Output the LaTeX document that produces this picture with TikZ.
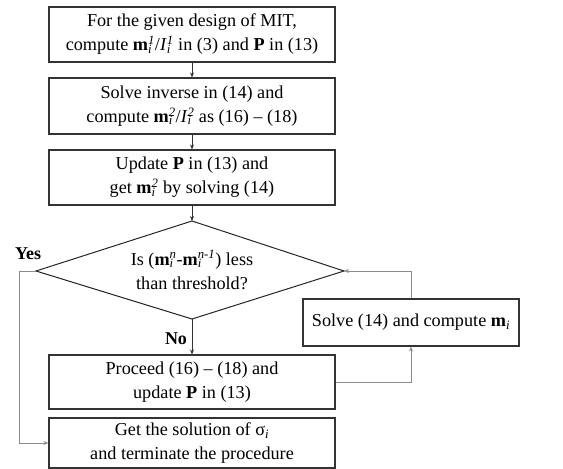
\documentclass[tikz,border=0pt]{standalone}
\usepackage{fontspec}
\setmainfont{Liberation Serif}
\usetikzlibrary{arrows.meta,shapes.geometric}
\newcommand\ssp[2]{\rlap{\textsubscript{\textit{#1}}}\textsuperscript{\textit{#2}}}
\begin{document}
\begin{tikzpicture}[x=1pt,y=-1pt,
  box/.style={draw=black!80,line width=1.1pt,minimum width=286pt,align=center,font=\fontsize{18.2}{24}\selectfont,inner sep=0pt},
  arr/.style={draw=black!80,line width=0.8pt,-{Stealth[length=5pt,width=4pt]}},
  fb/.style={draw=black!45,line width=0.9pt,-{Stealth[length=5pt,width=4pt]}},
  lbl/.style={font=\fontsize{18}{20}\selectfont\bfseries}]
\useasboundingbox (0,0) rectangle (563,469);
\node[box,minimum height=55pt] (b1) at (192,34.5) {For the given design of MIT,\\compute \textbf{m}\ssp{i}{1}/\textit{I}\ssp{i}{1} in (3) and \textbf{P} in (13)};
\node[box,minimum height=56pt] (b2) at (192,106) {Solve inverse in (14) and\\compute \textbf{m}\ssp{i}{2}/\textit{I}\ssp{i}{2} as (16) – (18)};
\node[box,minimum height=55pt] (b3) at (192,177.5) {Update \textbf{P} in (13) and\\get \textbf{m}\ssp{i}{2} by solving (14)};
\coordinate (dt) at (192,221);
\coordinate (dl) at (36,271);
\coordinate (dr) at (344,271);
\coordinate (db) at (192,319);
\draw[draw=black!85,line width=1pt] (dt) -- (dr) -- (db) -- (dl) -- cycle;
\node[align=center,font=\fontsize{18.2}{24}\selectfont] (dtext) at (192,270) {Is (\textbf{m}\ssp{i}{n}-\textbf{m}\ssp{i}{n-1}) less\\than threshold?};
\node[box,minimum height=54pt] (b4) at (192,382) {Proceed (16) – (18) and\\update \textbf{P} in (13)};
\node[box,minimum height=50pt] (b5) at (192,443) {Get the solution of σ\textsubscript{\textit{i}}\\and terminate the procedure};
\node[box,minimum width=216pt,minimum height=47pt] (b6) at (411,322.5) {Solve (14) and compute \textbf{m}\textsubscript{\textit{i}}};
\node[lbl] (yes) at (28,254) {Yes};
\node[lbl] (no) at (176,339) {No};
\draw[arr] (b1.south) -- (b2.north);
\draw[arr] (b2.south) -- (b3.north);
\draw[arr] (b3.south) -- (dt);
\draw[arr] (db) -- (b4.north);
\draw[fb] (b4.east) -| (b6.south);
\draw[fb] (b6.north) |- (dr);
\draw[fb] (dl) -- (19,271) |- (b5.west);
\end{tikzpicture}
\end{document}
